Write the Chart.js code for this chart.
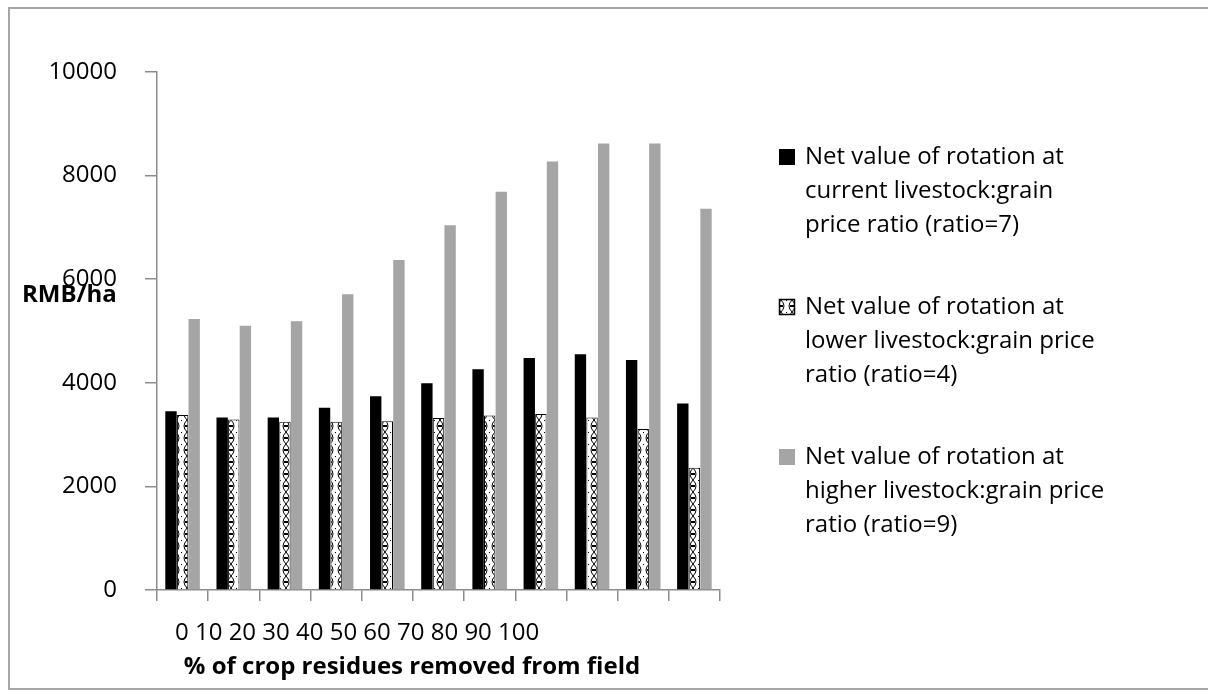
<!DOCTYPE html>
<html>
<head>
<meta charset="utf-8">
<script src="https://cdn.jsdelivr.net/npm/chart.js@4.4.1/dist/chart.umd.min.js"></script>
<style>
  html, body { margin: 0; padding: 0; background: #fff; }
  #wrap { position: relative; width: 1208px; height: 690px; overflow: hidden; }
  #frame { position: absolute; left: 8px; top: 7px; width: 1220px; height: 679px; border: 2px solid #a6a6a6; }
  canvas { position: absolute; left: 0; top: 0; }
</style>
</head>
<body>
<div id="wrap">
  <div id="frame"></div>
  <canvas id="chart" width="1208" height="690"></canvas>
</div>
<script>
// % of crop residues removed
const categories = ["0", "10", "20", "30", "40", "50", "60", "70", "80", "90", "100"];
// net value of rotation, RMB/ha
const currentRatio = [3450, 3330, 3330, 3520, 3740, 3990, 4260, 4480, 4550, 4440, 3600];
const lowerRatio = [3380, 3290, 3250, 3250, 3260, 3320, 3370, 3400, 3330, 3110, 2360];
const higherRatio = [5230, 5100, 5190, 5710, 6370, 7040, 7690, 8270, 8620, 8620, 7360];
const seriesNames = [
  ["Net value of rotation at", "current livestock:grain", "price ratio (ratio=7)"],
  ["Net value of rotation at", "lower livestock:grain price", "ratio (ratio=4)"],
  ["Net value of rotation at", "higher livestock:grain price", "ratio (ratio=9)"]
];
const yTicks = [0, 2000, 4000, 6000, 8000, 10000];
const xTitle = "% of crop residues removed from field";
const yTitle = "RMB/ha";

const FONT = "'Open Sans', 'DejaVu Sans', sans-serif";

// lace-like fill for the lower ratio series
function makePattern() {
  const c = document.createElement("canvas");
  c.width = 11;
  c.height = 12;
  const p = c.getContext("2d");
  p.fillStyle = "#fff";
  p.fillRect(0, 0, 11, 12);
  p.strokeStyle = "#000";
  p.lineWidth = 1;
  p.beginPath();
  p.moveTo(0, 0); p.quadraticCurveTo(6, 6, 0, 12);
  p.moveTo(11, 0); p.quadraticCurveTo(5, 6, 11, 12);
  p.stroke();
  p.fillStyle = "#000";
  p.fillRect(0, 5, 2, 2);
  p.fillRect(9, 5, 2, 2);
  p.fillRect(5, 0, 1, 1);
  return p.createPattern(c, "repeat");
}
const ctx = document.getElementById("chart").getContext("2d");
const lace = makePattern();

const extras = {
  id: "extras",
  afterDraw(chart) {
    const c = chart.ctx;
    c.save();
    c.fillStyle = "#000";
    c.textBaseline = "middle";
    c.textAlign = "left";
    c.font = "24px " + FONT;
    c.fillText(categories.join(" "), 175, 633);
    c.font = "bold 24px " + FONT;
    c.textAlign = "center";
    c.fillText(xTitle, 412, 667);
    c.textAlign = "left";
    c.fillText(yTitle, 22, 295);

    // legend
    c.font = "24px " + FONT;
    chart.data.datasets.forEach((ds, i) => {
      const top = 157 + i * 150;
      c.fillStyle = ds.backgroundColor;
      c.fillRect(779, top - 8, 16, 16);
      if (ds.borderWidth) {
        c.strokeStyle = ds.borderColor;
        c.lineWidth = 1.5;
        c.strokeRect(779.5, top - 7.5, 15, 15);
      }
      c.fillStyle = "#000";
      ds.label.forEach((line, j) => c.fillText(line, 805, top + j * 34));
    });
    c.restore();
  }
};

new Chart(ctx, {
  type: "bar",
  data: {
    labels: categories,
    datasets: [
      {
        label: seriesNames[0],
        data: currentRatio,
        backgroundColor: "#000000",
        borderWidth: 0,
      },
      {
        label: seriesNames[1],
        data: lowerRatio,
        backgroundColor: lace,
        borderColor: "#000000",
        borderWidth: 1,
      },
      {
        label: seriesNames[2],
        data: higherRatio,
        backgroundColor: "#a5a5a5",
        borderWidth: 0,
      },
    ],
  },
  options: {
    responsive: false,
    animation: false,
    devicePixelRatio: 1,
    categoryPercentage: 0.68,
    barPercentage: 0.98,
    layout: { padding: { left: 0, top: 72, right: 488, bottom: 0 } },
    plugins: {
      legend: { display: false },
      tooltip: { enabled: false },
    },
    scales: {
      x: {
        grid: { offset: true, drawOnChartArea: false, color: "#8c8c8c", tickLength: 11, lineWidth: 1.5 },
        border: { color: "#8c8c8c", width: 1.5 },
        ticks: { callback: () => "" },
        afterFit: (s) => { s.height = 100; },
      },
      y: {
        min: 0,
        max: 10000,
        afterBuildTicks: (s) => { s.ticks = yTicks.map((v) => ({ value: v })); },
        grid: { drawOnChartArea: false, color: "#8c8c8c", tickLength: 12, lineWidth: 1.5 },
        border: { color: "#8c8c8c", width: 1.5 },
        ticks: { padding: 28, color: "#000", font: { family: FONT, size: 24 }, callback: (v) => String(v) },
        afterFit: (s) => { s.width = 157; },
      },
    },
  },
  plugins: [extras],
});
</script>
</body>
</html>
